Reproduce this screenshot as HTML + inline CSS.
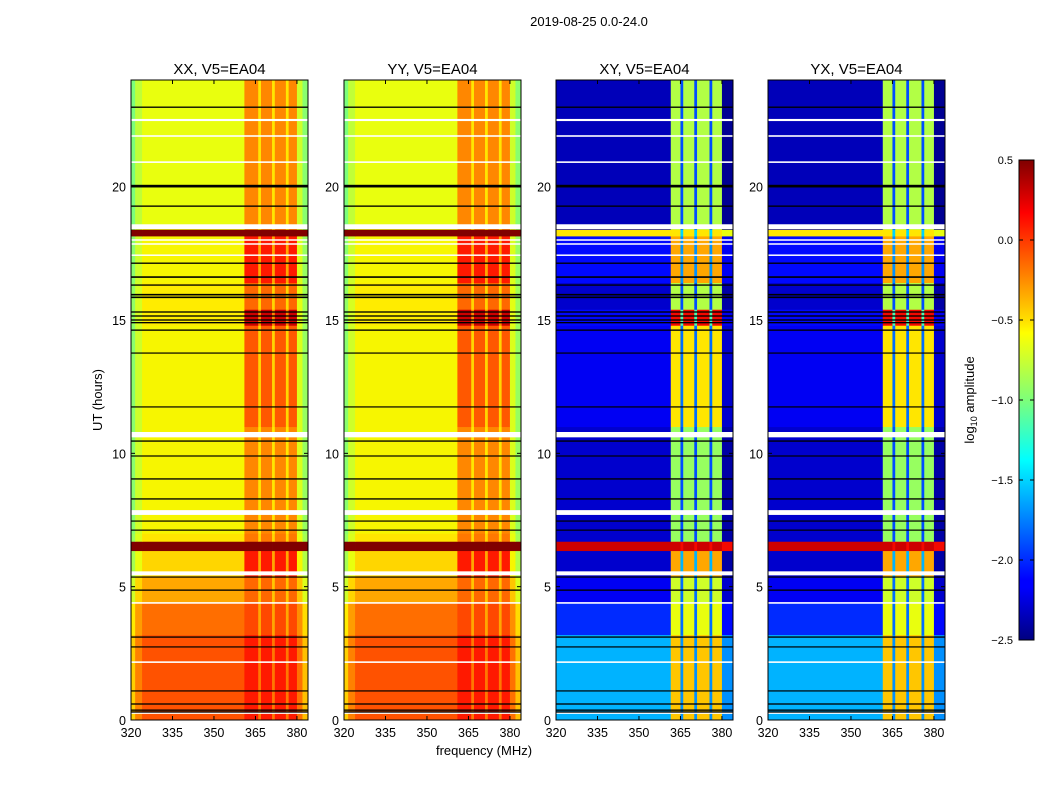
<!DOCTYPE html>
<html><head><meta charset="utf-8">
<style>
body{margin:0;background:#fff;}
svg text{font-family:"Liberation Sans",sans-serif;}
</style></head>
<body>
<svg id="fig" width="1050" height="800" viewBox="0 0 1050 800" xmlns="http://www.w3.org/2000/svg">
<defs>
<linearGradient id="jetgrad" x1="0" y1="1" x2="0" y2="0">
<stop offset="0" stop-color="#000080"/><stop offset="0.11" stop-color="#0000ff"/><stop offset="0.125" stop-color="#0000ff"/>
<stop offset="0.34" stop-color="#00dbff"/><stop offset="0.375" stop-color="#0ff"/><stop offset="0.5" stop-color="#7dff7a"/>
<stop offset="0.64" stop-color="#ff0"/><stop offset="0.66" stop-color="#ffe600"/><stop offset="0.89" stop-color="#ff0000"/>
<stop offset="1" stop-color="#800000"/></linearGradient>
</defs>
<text x="589" y="26" font-size="13" text-anchor="middle">2019-08-25 0.0-24.0</text>
<g id="panels"></g>
<text transform="translate(102,400) rotate(-90)" font-size="13" text-anchor="middle">UT (hours)</text>
<text x="484" y="755" font-size="13" text-anchor="middle">frequency (MHz)</text>
<g>
<rect x="1019" y="160" width="15" height="480" fill="url(#jetgrad)" stroke="#000" stroke-width="1"/>
<g id="cbticks"></g>
<text transform="translate(974,400) rotate(-90)" font-size="13" text-anchor="middle">log<tspan font-size="9" dy="3">10</tspan><tspan dy="-3"> amplitude</tspan></text>
</g>
</svg>
<script>
// ---- data ----
const panelTitles = ["XX, V5=EA04","YY, V5=EA04","XY, V5=EA04","YX, V5=EA04"];
const panelLeft = [131,344,556,768];
const xTicks = [320,335,350,365,380];
const yTicks = [0,5,10,15,20];
const cbTicks = [0.5,0.0,-0.5,-1.0,-1.5,-2.0,-2.5];
const segEdges = [0,3.2,4.4,5.4,6.35,6.7,7.0,11,14.8,15.4,16.4,18.15,18.4,24];
const parOff  = [-0.03,-0.12,-0.3,-0.45,0.5,-0.5,-0.55,-0.55,-0.52,-0.52,-0.55,0.5,-0.6];
const parBand = [0.15,0.0,-0.1,0.15,0.5,-0.15,-0.2,-0.05,0.3,-0.1,0.15,0.5,-0.2];
const parGap  = [-0.15,-0.3,-0.4,-0.3,0.5,-0.45,-0.5,-0.45,-0.2,-0.45,-0.3,0.5,-0.5];
const crsOff  = [-1.6,-2.0,-2.2,-2.3,0.3,-2.3,-2.3,-2.2,-2.1,-2.3,-2.1,-0.5,-2.35];
const crsBand = [-0.4,-0.6,-0.7,-0.3,0.3,-0.9,-0.9,-0.5,0.2,-0.8,-0.3,-0.5,-0.8];
const crsGap  = [-1.7,-1.8,-1.8,-1.6,0.2,-1.9,-1.9,-1.8,-1.2,-1.9,-1.7,-1.5,-1.9];
const parFreqEdges = [320,321.5,324,361,366,367,371,372,376,377,380,382,384];
const parFreqKind  = ["off","off","off","band","gap","band","gap","band","gap","band","off","off"];
const parFreqOffs  = [-0.4,-0.15,0,0,0,0,0,0,0,0,-0.1,-0.35];
const crsFreqEdges = [320,361.5,365,366,370,371,375.5,376.5,380,384];
const crsFreqKind  = ["off","band","gap","band","gap","band","gap","band","off"];
const crsFreqOffs  = [0,0,0,0,0,0,0,0,-0.1];
const whiteFlags = [22.5,21.9,20.92,18.5,18.0,17.85,17.43,10.7,7.78,5.5,4.39,2.17,0.26];
const whiteWidth = [0.08,0.06,0.06,0.18,0.05,0.05,0.05,0.2,0.18,0.15,0.06,0.06,0.06];
const blackFlags = [22.98,20.02,19.27,17.13,16.61,16.31,15.95,15.85,15.3,15.15,15.0,14.9,14.62,13.76,11.74,10.46,9.9,9.04,8.29,7.46,7.12,5.36,4.87,3.11,2.74,1.09,0.6,0.37,0.3];
const blackWidth = [0.05,0.1,0.05,0.05,0.06,0.05,0.06,0.06,0.05,0.05,0.05,0.05,0.05,0.04,0.04,0.05,0.04,0.05,0.05,0.04,0.04,0.04,0.05,0.05,0.04,0.04,0.05,0.05,0.05];

// ---- scales ----
const W=177, TOP=80, BOT=720, XMIN=320, XMAX=384, YMAX=24;
function xs(left,f){return left+(f-XMIN)/(XMAX-XMIN)*W;}
function ys(h){return BOT-h/YMAX*(BOT-TOP);}
function interp(pts,t){for(let i=1;i<pts.length;i++){if(t<=pts[i][0]){const a=pts[i-1],b=pts[i];return a[1]+(b[1]-a[1])*(t-a[0])/(b[0]-a[0]);}}return pts[pts.length-1][1];}
function jet(v){let t=(v+2.5)/3;t=Math.max(0,Math.min(1,t));
 const r=interp([[0,0],[0.35,0],[0.66,1],[0.89,1],[1,0.5]],t);
 const g=interp([[0,0],[0.125,0],[0.375,1],[0.64,1],[0.91,0],[1,0]],t);
 const b=interp([[0,0.5],[0.11,1],[0.34,1],[0.65,0],[1,0]],t);
 return `rgb(${Math.round(r*255)},${Math.round(g*255)},${Math.round(b*255)})`;}
const NS="http://www.w3.org/2000/svg";
function el(tag,attrs,parent){const e=document.createElementNS(NS,tag);for(const k in attrs)e.setAttribute(k,attrs[k]);parent.appendChild(e);return e;}
const panels=document.getElementById('panels');
panelTitles.forEach((title,p)=>{
 const left=panelLeft[p];
 const cross=p>=2;
 const off=cross?crsOff:parOff, band=cross?crsBand:parBand, gap=cross?crsGap:parGap;
 const fe=cross?crsFreqEdges:parFreqEdges, fk=cross?crsFreqKind:parFreqKind, fo=cross?crsFreqOffs:parFreqOffs;
 const g=el('g',{},panels);
 
 
 const hm=el('g',{},g);
 
 
 for(let s=0;s<segEdges.length-1;s++){
  for(let f=0;f<fe.length-1;f++){
   let v=fk[f]==='band'?band[s]:fk[f]==='gap'?gap[s]:off[s]+fo[f];
   if(off[s]>=0.3 && !cross) v=off[s];
   const x0=xs(left,fe[f]),x1=xs(left,fe[f+1]),y0=ys(segEdges[s+1]),y1=ys(segEdges[s]);
   const r=el('rect',{x:x0.toFixed(2),y:y0.toFixed(2),width:(x1-x0+0.4).toFixed(2),height:(y1-y0+0.4).toFixed(2),fill:jet(v)},hm);
   
   
  }
 }
 whiteFlags.forEach((h,i)=>{
  const hh=Math.max(whiteWidth[i]/YMAX*640,1.5);
  const r=el('rect',{x:left,y:ys(h)-hh/2,width:W,height:hh,fill:'#fff'},g);
  
  
 });
 blackFlags.forEach((h,i)=>{
  const hh=Math.max(blackWidth[i]/YMAX*640,1.2);
  const r=el('rect',{x:left,y:ys(h)-hh/2,width:W,height:hh,fill:'#000'},g);
  
  
 });
 const fr=el('rect',{x:left,y:TOP,width:W,height:BOT-TOP,fill:'none',stroke:'#000','stroke-width':1},g);
 
 
 const t=el('text',{x:left+W/2,y:74,'font-size':15,'text-anchor':'middle'},g);
 t.textContent=title;
 
 
 xTicks.forEach(v=>{
  const x=xs(left,v);
  el('line',{x1:x,x2:x,y1:BOT,y2:BOT-4,stroke:'#000'},g);
  el('line',{x1:x,x2:x,y1:TOP,y2:TOP+4,stroke:'#000'},g);
  const tl=el('text',{x:x,y:BOT+17,'font-size':12.5,'text-anchor':'middle'},g);
  tl.textContent=v;
  
  
 });
 yTicks.forEach(v=>{
  const y=ys(v);
  el('line',{x1:left,x2:left+4,y1:y,y2:y,stroke:'#000'},g);
  el('line',{x1:left+W,x2:left+W-4,y1:y,y2:y,stroke:'#000'},g);
  const tl=el('text',{x:left-5,y:y+5,'font-size':12.5,'text-anchor':'end'},g);
  tl.textContent=v;
  
  
 });
});
const cbt=document.getElementById('cbticks');
cbTicks.forEach(v=>{
 const y=640-(v+2.5)/3*480;
 el('line',{x1:1034,x2:1030,y1:y,y2:y,stroke:'#000'},cbt);
 el('line',{x1:1019,x2:1023,y1:y,y2:y,stroke:'#000'},cbt);
 const tl=el('text',{x:1013,y:y+4,'font-size':11,'text-anchor':'end'},cbt);
 tl.textContent=v.toFixed(1).replace('-','\u2212');
 
 
});
</script>
</body></html>
